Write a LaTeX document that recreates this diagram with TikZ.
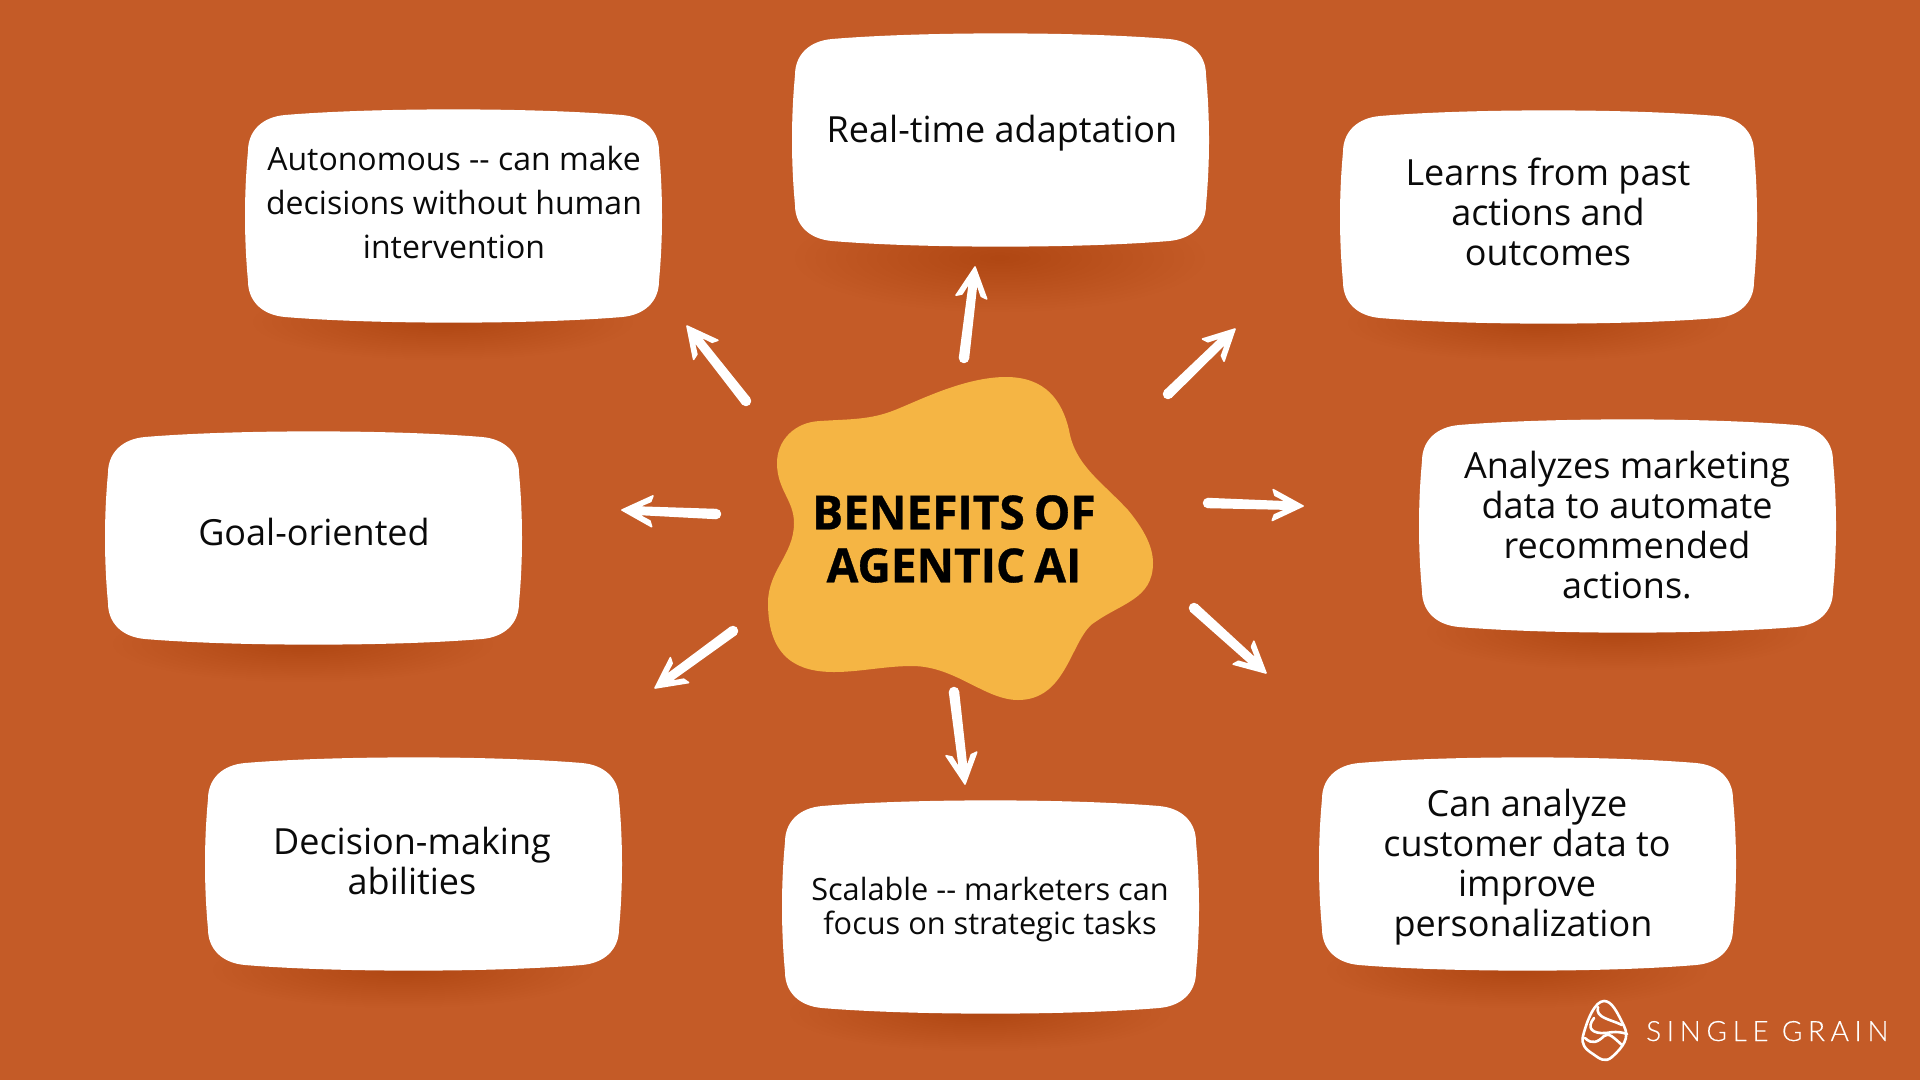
\documentclass[tikz,border=0pt]{standalone}
\usepackage{fontspec}
\setmainfont{Open Sans}
\newfontfamily\logofont[LetterSpace=20,FakeBold=0.25]{Lato Light}
\newfontfamily\titlefont[UprightFont=* Bold,FakeBold=0.7]{Open Sans}
\usetikzlibrary{calc}
\definecolor{bgc}{HTML}{C45B27}
\definecolor{blobc}{HTML}{F5B544}
\definecolor{shadowink}{HTML}{5A2A10}
\definecolor{inkc}{HTML}{0A0A0A}
\tikzset{
  cardfill/.style={fill=white},
  cardtext/.style={text=inkc,align=center,inner sep=0pt,font=\fontsize{36}{40}\selectfont},
  arrowink/.style={fill=white,draw=white,line width=1.6pt,line join=round},
  logoline/.style={draw=white,line width=2.6pt,line cap=round,line join=round},
}
% card outline, 417 x 214, (x,y) = its top left corner
\newcommand\cardshape[2]{%
  \fill[cardfill,shift={(#1,#2)}] (40,6) .. controls (130,-1.5) and (287,-1.5) .. (377,6)
    .. controls (400,8) and (414,22) .. (414,42)
    .. controls (418,85) and (418,129) .. (414,172)
    .. controls (414,192) and (400,206) .. (377,208)
    .. controls (287,215.5) and (130,215.5) .. (40,208)
    .. controls (17,206) and (3,192) .. (3,172)
    .. controls (-1,129) and (-1,85) .. (3,42)
    .. controls (3,22) and (17,8) .. (40,6) -- cycle;}
% soft shadow: centre x, centre y, x radius, y radius, opacity of one layer
\newcommand\softshadow[5]{%
  \foreach \k in {1,...,20}
    \fill[shadowink,opacity=#5] (#1,#2) ellipse [x radius={#3*\k/20},y radius={#4*\k/20}];}
% hand-drawn arrow between two named coordinates
\newcommand\sketcharrow[2]{%
  \fill[arrowink] (#1) circle (4.4pt);
  \filldraw[arrowink] (#2) -- ($(#2)!34pt!27:(#1)$) -- ($(#2)!30pt!19:(#1)$)
    -- ($(#2)!16pt!13:(#1)$) -- ($(#1)!4.4pt!-90:(#2)$) -- ($(#1)!4.4pt!90:(#2)$)
    -- ($(#2)!16pt!-13:(#1)$) -- ($(#2)!30pt!-19:(#1)$) -- ($(#2)!34pt!-27:(#1)$) -- cycle;}
\begin{document}
\begin{tikzpicture}[x=1pt,y=-1pt]
\useasboundingbox (0,0) rectangle (1920,1080);
\fill[bgc] (0,0) rectangle (1920,1080);
% shadows
\softshadow{1000}{258}{205}{54}{0.0095}
\softshadow{443}{322}{190}{38}{0.007}
\softshadow{1538}{323}{190}{38}{0.007}
\softshadow{303}{644}{190}{38}{0.007}
\softshadow{1617}{632}{190}{38}{0.007}
\softshadow{403}{970}{190}{38}{0.007}
\softshadow{980}{1013}{190}{38}{0.007}
\softshadow{1517}{970}{190}{38}{0.007}
% cards
\cardshape{245}{109}
\cardshape{792}{33}
\cardshape{1340}{110}
\cardshape{105}{431}
\cardshape{1419}{419}
\cardshape{205}{757}
\cardshape{782}{800}
\cardshape{1319}{757}
% central blob
\fill[blobc] (1006,377) .. controls (1045,377) and (1062,400) .. (1069,430)
  .. controls (1075,465) and (1100,480) .. (1128,510)
  .. controls (1142,527) and (1153,545) .. (1153,563)
  .. controls (1153,600) and (1120,603) .. (1091,625)
  .. controls (1070,645) and (1065,700) .. (1018,700)
  .. controls (985,700) and (955,666) .. (912,666)
  .. controls (885,666) and (860,672) .. (834,672)
  .. controls (800,672) and (768,660) .. (768,603)
  .. controls (768,570) and (794,555) .. (794,523)
  .. controls (794,500) and (777,490) .. (777,463)
  .. controls (777,440) and (795,422) .. (820,421)
  .. controls (850,419) and (870,420) .. (895,410)
  .. controls (920,400) and (965,377) .. (1006,377) -- cycle;
% card texts
\node[cardtext,font=\fontsize{32}{44}\selectfont] (tAuto) at (454,202) {Autonomous -{}- can make\\decisions without human\\intervention};
\node[cardtext] (tReal) at (1002,133) {Real-time adaptation};
\node[cardtext] (tLearn) at (1548,212) {Learns from past\\actions and\\outcomes};
\node[cardtext] (tGoal) at (314,532) {Goal-oriented};
\node[cardtext] (tAnal) at (1627,525) {Analyzes marketing\\data to automate\\recommended\\actions.};
\node[cardtext] (tDeci) at (412,861) {Decision-making\\abilities};
\node[cardtext,font=\fontsize{30.7}{34}\selectfont] (tScal) at (990,910) {Scalable -{}- marketers can\\focus on strategic tasks};
\node[cardtext] (tCan) at (1527,867) {Can analyze\\customer data to\\improve\\\hspace*{-8pt}personalization};
% title
\node[text=black,align=center,inner sep=0pt,font=\fontsize{47}{53}\selectfont\titlefont,xscale=0.98,transform shape] (title) at (954,539) {BENEFITS\hspace{-3pt} OF\\AGENTIC\hspace{-3pt} AI};
% arrows
\coordinate (aT0) at (964,358); \coordinate (aT1) at (975,267);
\coordinate (aR0) at (1168,394); \coordinate (aR1) at (1235,329);
\coordinate (aE0) at (1208,503); \coordinate (aE1) at (1303,506);
\coordinate (aS0) at (1194,608); \coordinate (aS1) at (1266,673);
\coordinate (aB0) at (954,692); \coordinate (aB1) at (965,784);
\coordinate (aL0) at (733,631); \coordinate (aL1) at (655,688);
\coordinate (aW0) at (716,514); \coordinate (aW1) at (622,510);
\coordinate (aN0) at (746,401); \coordinate (aN1) at (687,326);
\sketcharrow{aT0}{aT1}
\sketcharrow{aR0}{aR1}
\sketcharrow{aE0}{aE1}
\sketcharrow{aS0}{aS1}
\sketcharrow{aB0}{aB1}
\sketcharrow{aL0}{aL1}
\sketcharrow{aW0}{aW1}
\sketcharrow{aN0}{aN1}
% logo
\draw[logoline] (1604,1001) .. controls (1612,1001) and (1617,1012) .. (1624,1026)
  .. controls (1630,1038) and (1623,1047) .. (1612,1057)
  .. controls (1605,1063) and (1600,1059) .. (1593,1054)
  .. controls (1585,1049) and (1581,1044) .. (1583,1036)
  .. controls (1587,1020) and (1595,1001) .. (1604,1001) -- cycle;
\draw[logoline] (1598,1007) .. controls (1595,1018) and (1610,1019) .. (1622,1025);
\draw[logoline] (1594,1018) .. controls (1586,1028) and (1592,1034) .. (1606,1033) .. controls (1612,1032) and (1618,1031) .. (1627,1034);
\draw[logoline] (1585,1038) .. controls (1592,1045) and (1598,1042) .. (1604,1036) .. controls (1609,1032) and (1614,1038) .. (1622,1045);
\node[text=white,inner sep=0pt,anchor=base west,font=\fontsize{28}{28}\selectfont\logofont] (logo) at (1646,1041) {SINGLE GRAIN};
\end{tikzpicture}
\end{document}
